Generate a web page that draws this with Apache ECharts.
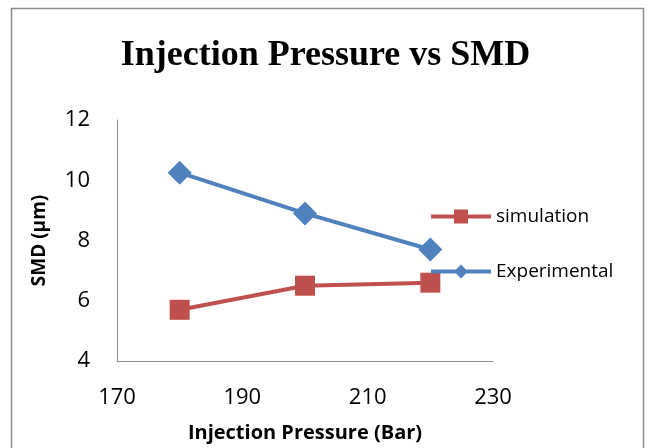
<!DOCTYPE html>
<html>
<head>
<meta charset="utf-8">
<script src="https://cdn.jsdelivr.net/npm/echarts@6/dist/echarts.min.js"></script>
<style>
  html, body { margin: 0; padding: 0; background: #fff; }
  #chart { width: 651px; height: 448px; }
</style>
</head>
<body>
<div id="chart"></div>
<script>
// injection pressure (Bar) against SMD (µm)
const pressures = [180, 200, 220];
const simulation = [5.7, 6.5, 6.6];
const experimental = [10.25, 8.9, 7.7];

const toPairs = ys => pressures.map((x, i) => [x, ys[i]]);

const chart = echarts.init(document.getElementById('chart'));
const axisFont = 'Open Sans';

// legend keys drawn as a thick line with the marker in the middle
const rectKey = 'path://M0,6H23V1H37V6H60V10H37V15H23V10H0Z';
const diamondKey = 'path://M0,6H25L30,1L35,6H60V10H35L30,15L25,10H0Z';

chart.setOption({
  backgroundColor: '#fff',
  animation: false,
  graphic: [
    {
      type: 'rect',
      shape: { x: 11.5, y: 8.5, width: 632, height: 460 },
      style: { fill: 'none', stroke: '#8c8c8c', lineWidth: 1.5 }
    }
  ],
  title: {
    text: 'Injection Pressure vs SMD',
    left: 'center',
    top: 33,
    textStyle: {
      fontFamily: 'Liberation Serif',
      fontWeight: 'bold',
      fontSize: 36,
      color: '#000'
    }
  },
  legend: {
    orient: 'vertical',
    left: 426,
    top: 202,
    itemWidth: 60,
    itemHeight: 14,
    itemGap: 36,
    textStyle: { fontFamily: axisFont, fontSize: 19, color: '#000' },
    data: [
      { name: 'simulation', icon: rectKey },
      { name: 'Experimental', icon: diamondKey }
    ]
  },
  grid: { left: 117, right: 158, top: 120, bottom: 87 },
  xAxis: {
    type: 'value',
    min: 170,
    max: 230,
    interval: 20,
    name: 'Injection Pressure (Bar)',
    nameLocation: 'middle',
    nameGap: 62,
    nameTextStyle: { fontFamily: axisFont, fontWeight: 'bold', fontSize: 20, color: '#000' },
    axisLine: { lineStyle: { color: '#8c8c8c', width: 1 } },
    axisTick: { show: false },
    splitLine: { show: false },
    axisLabel: { fontFamily: axisFont, fontSize: 22, color: '#000', margin: 26 }
  },
  yAxis: {
    type: 'value',
    min: 4,
    max: 12,
    interval: 2,
    name: 'SMD (µm)',
    nameLocation: 'middle',
    nameGap: 68,
    nameTextStyle: { fontFamily: axisFont, fontWeight: 'bold', fontSize: 19, color: '#000' },
    axisLine: { show: true, lineStyle: { color: '#8c8c8c', width: 1 } },
    axisTick: { show: false },
    splitLine: { show: false },
    axisLabel: { fontFamily: axisFont, fontSize: 22, color: '#000', margin: 27 }
  },
  series: [
    {
      name: 'simulation',
      type: 'line',
      data: toPairs(simulation),
      symbol: 'rect',
      symbolSize: 20,
      color: '#c0504d',
      lineStyle: { width: 4, color: '#c0504d' },
      itemStyle: { color: '#c0504d' }
    },
    {
      name: 'Experimental',
      type: 'line',
      data: toPairs(experimental),
      symbol: 'diamond',
      symbolSize: 24,
      color: '#4f81bd',
      lineStyle: { width: 4, color: '#4f81bd' },
      itemStyle: { color: '#4f81bd' }
    }
  ]
});
</script>
</body>
</html>
